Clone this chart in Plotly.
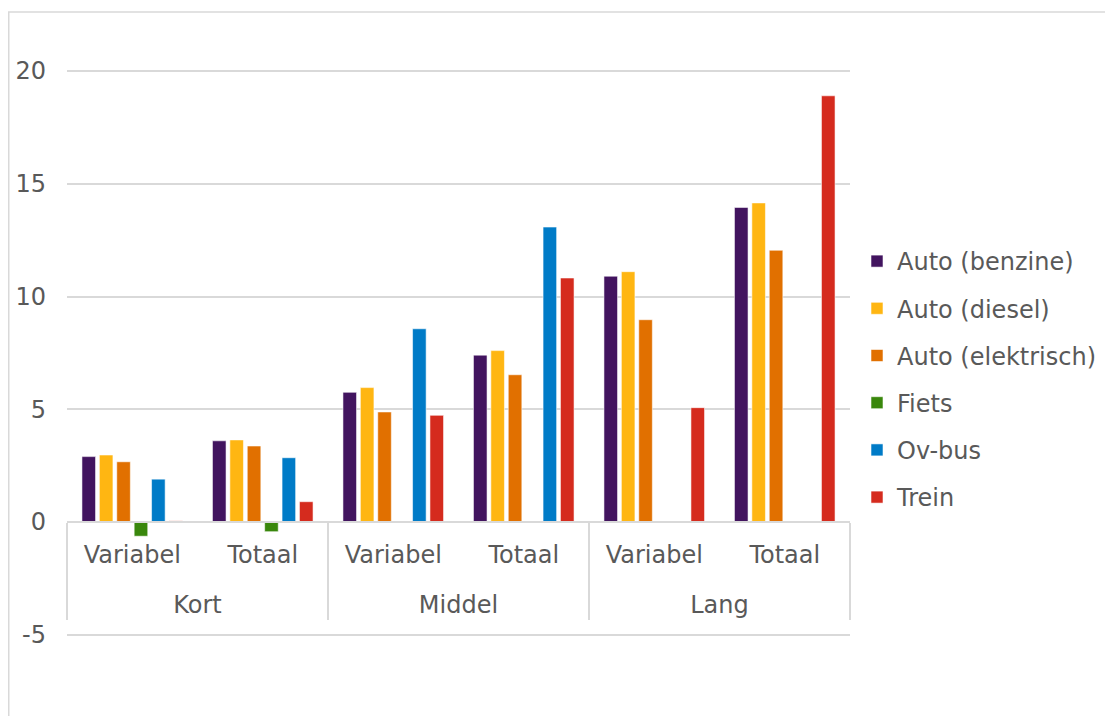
import plotly.graph_objects as go

afstand = ["Kort", "Kort", "Middel", "Middel", "Lang", "Lang"]
kosten = ["Variabel", "Totaal", "Variabel", "Totaal", "Variabel", "Totaal"]

series_names = ["Auto (benzine)", "Auto (diesel)", "Auto (elektrisch)", "Fiets", "Ov-bus", "Trein"]
benzine = [2.9, 3.6, 5.75, 7.4, 10.9, 13.95]
diesel = [2.97, 3.64, 5.96, 7.6, 11.1, 14.15]
elektrisch = [2.67, 3.37, 4.88, 6.53, 8.97, 12.05]
fiets = [-0.63, -0.43, None, None, None, None]
ovbus = [1.9, 2.85, 8.57, 13.08, None, None]
trein = [0.05, 0.9, 4.73, 10.82, 5.07, 18.9]

y_ticks = [-5, 0, 5, 10, 15, 20]
y_ticktext = ["-5", "0", "5", "10", "15", "20"]

colors = ["#42145F", "#FFB612", "#E17000", "#39870C", "#007BC7", "#D52B1E"]
values = [benzine, diesel, elektrisch, fiets, ovbus, trein]

FONT = "DejaVu Sans"
FS = 24
GREY = "#595959"
LINE = "#D9D9D9"

# second (blank) line under the inner labels pushes the outer level down
inner = [k + "<br>\u00a0" for k in kosten]

fig = go.Figure()
for name, vals, col in zip(series_names, values, colors):
    fig.add_trace(go.Bar(
        x=[afstand, inner], y=vals, name=name, legendgroup=name,
        marker=dict(color=col, line=dict(color="rgba(255,255,255,0.55)", width=1)),
    ))

# page has an 8px body margin: work in page pixels minus 8
OFF = 8
W, H = 1113 - OFF, 716 - OFF
ml = 67 - OFF
plot_right = 850 - OFF
mr = W - plot_right
mt = 20 - OFF
mb = 18
ymin, ymax = -7.805, 22.262
pw = W - ml - mr
ph = H - mt - mb

fig.update_layout(
    width=W, height=H,
    margin=dict(l=ml, r=mr, t=mt, b=mb, pad=0, autoexpand=False),
    paper_bgcolor="white", plot_bgcolor="white",
    barmode="group", bargap=0.2, bargroupgap=0.22,
    font=dict(family=FONT, size=FS, color=GREY),
    showlegend=True,
    legend=dict(
        x=(877 - OFF - 20 - ml) / pw, xanchor="left",
        y=(H - mb - (239 - OFF)) / ph, yanchor="top",
        font=dict(family=FONT, size=FS, color=GREY),
        tracegroupgap=13, bgcolor="rgba(0,0,0,0)",
    ),
    xaxis=dict(
        type="multicategory", automargin=False,
        anchor="free", position=(-ymin) / (ymax - ymin),
        showline=True, linecolor=LINE, linewidth=1.5,
        showgrid=False, ticks="",
        showdividers=True, dividercolor=LINE, dividerwidth=1.5,
        ticklabelstandoff=11,
        tickfont=dict(family=FONT, size=FS, color=GREY),
    ),
    yaxis=dict(
        range=[ymin, ymax], automargin=False,
        tickvals=y_ticks, ticktext=y_ticktext,
        showgrid=True, gridcolor=LINE, gridwidth=1.5,
        zeroline=False, showline=False, ticks="",
        ticklabelstandoff=20,
        tickfont=dict(family=FONT, size=FS, color=GREY),
    ),
    shapes=[dict(
        type="rect", xref="paper", yref="paper",
        x0=(8 - OFF - ml + 0.75) / pw, x1=1.5,
        y0=-0.2, y1=(H - mb - (12 - OFF)) / ph,
        line=dict(color=LINE, width=1.5), fillcolor="rgba(0,0,0,0)", layer="below",
    )],
)

fig.write_html("out.html")
